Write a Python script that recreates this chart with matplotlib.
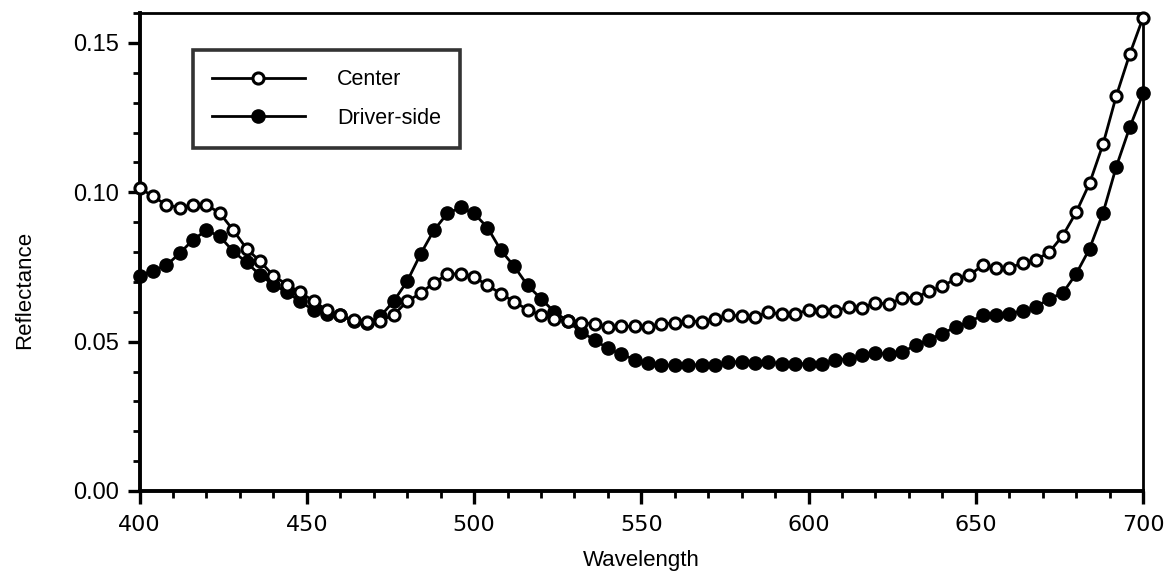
import matplotlib
matplotlib.use("Agg")
import matplotlib.pyplot as plt
from matplotlib.ticker import MultipleLocator, FormatStrFormatter
import numpy as np

# ── DATA (4 nm steps) ───────────────────────────────────────
wavelength = np.arange(400, 701, 4)

center = [
    0.1015, 0.0986, 0.0958, 0.0948, 0.0958, 0.0958, 0.0930, 0.0873, 0.0811, 0.0769,
    0.0721, 0.0691, 0.0665, 0.0636, 0.0605, 0.0588, 0.0572, 0.0565, 0.0570, 0.0590,
    0.0635, 0.0662, 0.0697, 0.0725, 0.0728, 0.0717, 0.0688, 0.0661, 0.0633, 0.0607,
    0.0588, 0.0577, 0.0568, 0.0564, 0.0559, 0.0550, 0.0551, 0.0551, 0.0549, 0.0560,
    0.0562, 0.0570, 0.0566, 0.0577, 0.0588, 0.0586, 0.0583, 0.0599, 0.0591, 0.0594,
    0.0605, 0.0603, 0.0603, 0.0616, 0.0614, 0.0630, 0.0625, 0.0647, 0.0647, 0.0669,
    0.0685, 0.0711, 0.0722, 0.0755, 0.0747, 0.0746, 0.0764, 0.0774, 0.0800, 0.0855,
    0.0933, 0.1030, 0.1160, 0.1323, 0.1462, 0.1585,
]

driver_side = [
    0.0720, 0.0738, 0.0755, 0.0796, 0.0841, 0.0873, 0.0852, 0.0802, 0.0765, 0.0723,
    0.0691, 0.0665, 0.0635, 0.0605, 0.0591, 0.0588, 0.0568, 0.0561, 0.0585, 0.0636,
    0.0702, 0.0793, 0.0873, 0.0929, 0.0949, 0.0929, 0.0882, 0.0806, 0.0752, 0.0688,
    0.0644, 0.0599, 0.0569, 0.0532, 0.0506, 0.0477, 0.0458, 0.0440, 0.0430, 0.0421,
    0.0421, 0.0423, 0.0421, 0.0421, 0.0432, 0.0432, 0.0429, 0.0432, 0.0426, 0.0426,
    0.0426, 0.0426, 0.0438, 0.0443, 0.0454, 0.0462, 0.0458, 0.0465, 0.0488, 0.0507,
    0.0527, 0.0549, 0.0566, 0.0588, 0.0588, 0.0594, 0.0602, 0.0616, 0.0644, 0.0663,
    0.0727, 0.0811, 0.0930, 0.1086, 0.1217, 0.1331,
]

plt.rcParams['font.family'] = ['Liberation Sans', 'DejaVu Sans']

# ── FIGURE ──────────────────────────────────────────────────
fig = plt.figure(figsize=(11.73, 5.79), dpi=100)
ax = fig.add_axes([0.119, 0.152, 0.8555, 0.8255])

ax.plot(wavelength, center, color='black', linewidth=2.0,
        marker='o', markersize=8, markerfacecolor='white',
        markeredgecolor='black', markeredgewidth=2.2, label='Center',
        zorder=3, clip_on=False)
ax.plot(wavelength, driver_side, color='black', linewidth=2.0,
        marker='o', markersize=9.5, markerfacecolor='black',
        markeredgecolor='black', label='Driver-side',
        zorder=2, clip_on=False)

ax.set_xlim(400, 700)
ax.set_ylim(0, 0.16)
ax.xaxis.set_major_locator(MultipleLocator(50))
ax.xaxis.set_minor_locator(MultipleLocator(10))
ax.yaxis.set_major_locator(MultipleLocator(0.05))
ax.yaxis.set_minor_locator(MultipleLocator(0.01))
ax.yaxis.set_major_formatter(FormatStrFormatter('%.2f'))

ax.tick_params(which='major', direction='out', length=9, width=2.4, pad=6)
ax.tick_params(axis='y', labelsize=17)
ax.tick_params(axis='x', labelsize=16, pad=8)
ax.tick_params(which='minor', direction='out', length=5, width=2.0)
ax.tick_params(top=False, right=False)
for lbl in ax.get_xticklabels():
    lbl.set_family('DejaVu Sans')

for side in ['left', 'bottom']:
    ax.spines[side].set_linewidth(2.8)
for side in ['top', 'right']:
    ax.spines[side].set_linewidth(2.0)

ax.set_xlabel('Wavelength', fontsize=16, labelpad=11)
ax.set_ylabel('Reflectance', fontsize=16)
ax.yaxis.set_label_coords(-0.104, 0.42)

leg = ax.legend(loc='upper left', bbox_to_anchor=(0.053, 0.9226),
                borderaxespad=0, fontsize=15.5, handlelength=4.3,
                handletextpad=1.5, labelspacing=0.8, borderpad=0.9,
                fancybox=False, frameon=True, edgecolor='black')
leg.get_frame().set_linewidth(2.6)

fig.savefig('out.png', dpi=100, facecolor='white')
